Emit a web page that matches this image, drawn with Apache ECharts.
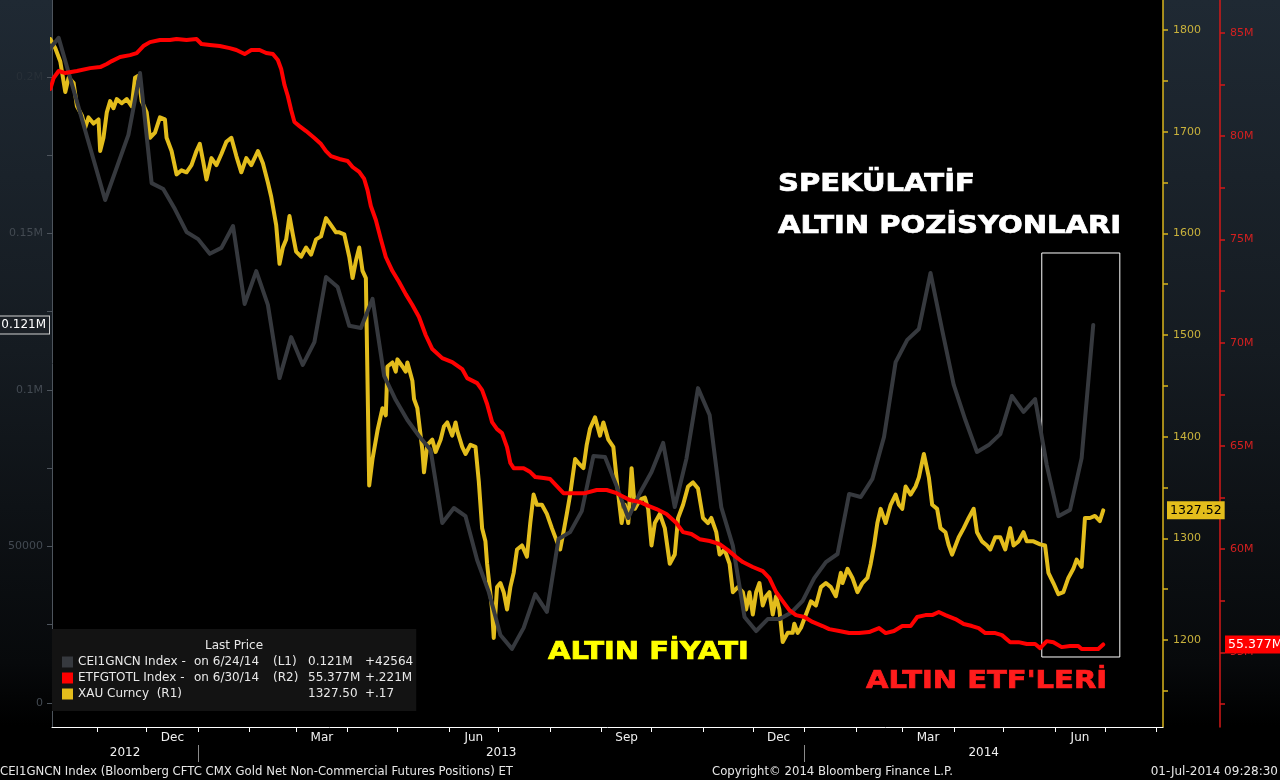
<!DOCTYPE html>
<html><head><meta charset="utf-8">
<script src="https://cdn.jsdelivr.net/npm/echarts@6/dist/echarts.min.js"></script>
<style>html,body{margin:0;padding:0;background:#000}#c{width:1280px;height:780px}</style>
</head><body><div id="c"></div>
<script>
// ---------------- DATA ----------------
const cftcDates = ['2012-10-02','2012-10-09','2012-11-06','2012-11-20','2012-11-27','2012-12-04','2012-12-11','2012-12-18','2012-12-25',
'2013-01-01','2013-01-08','2013-01-15','2013-01-22','2013-01-29','2013-02-05','2013-02-12','2013-02-19','2013-02-26','2013-03-05','2013-03-12','2013-03-19','2013-03-26',
'2013-04-02','2013-04-09','2013-04-16','2013-04-23','2013-04-30','2013-05-07','2013-05-14','2013-05-21','2013-05-28','2013-06-04','2013-06-11','2013-06-18','2013-06-25',
'2013-07-02','2013-07-09','2013-07-16','2013-07-23','2013-07-30','2013-08-06','2013-08-13','2013-08-20','2013-08-27','2013-09-03','2013-09-10','2013-09-17','2013-09-24',
'2013-10-01','2013-10-08','2013-10-15','2013-10-22','2013-10-29','2013-11-05','2013-11-12','2013-11-19','2013-11-26','2013-12-03','2013-12-10','2013-12-17','2013-12-24','2013-12-31',
'2014-01-07','2014-01-14','2014-01-21','2014-01-28','2014-02-04','2014-02-11','2014-02-18','2014-02-25','2014-03-04','2014-03-11','2014-03-18','2014-03-25',
'2014-04-01','2014-04-08','2014-04-15','2014-04-22','2014-04-29','2014-05-06','2014-05-13','2014-05-20','2014-05-27','2014-06-03','2014-06-10','2014-06-17','2014-06-24'];
const cftcPositions = [208000,212500,160700,181500,201300,166100,164200,157800,150500,
148200,143500,145400,152400,127500,138000,127200,103800,116900,108000,115300,136100,132900,
120500,119800,129100,104500,96800,90400,85300,80800,57500,62300,59700,45700,35500,
21700,17300,24000,34800,29100,52400,54600,61300,78900,78600,69300,59100,67100,
73800,83100,62600,78000,100600,92000,62600,50200,27500,23000,26800,26800,28800,32600,
39900,45000,47600,66800,65800,71600,85000,108900,116000,119500,137400,119200,
101600,90400,80200,82400,85900,98100,93000,97100,76000,59700,61700,78236,120800];

const etfDates = ['2012-10-04','2012-10-06','2012-10-09','2012-10-13','2012-10-20','2012-10-28','2012-11-03','2012-11-07','2012-11-10','2012-11-15','2012-11-21','2012-11-25','2012-11-29',
'2012-12-03','2012-12-09','2012-12-15','2012-12-19','2012-12-25','2012-12-31','2013-01-03','2013-01-08','2013-01-14','2013-01-20','2013-01-24','2013-01-29',
'2013-02-02','2013-02-07','2013-02-11','2013-02-15','2013-02-18','2013-02-20','2013-02-22','2013-02-24','2013-02-26','2013-02-28','2013-03-03','2013-03-07','2013-03-12','2013-03-16','2013-03-19','2013-03-22','2013-03-27',
'2013-04-01','2013-04-04','2013-04-08','2013-04-11','2013-04-13','2013-04-15','2013-04-18','2013-04-21','2013-04-24','2013-04-28','2013-05-02','2013-05-06','2013-05-10','2013-05-14','2013-05-18','2013-05-22','2013-05-28',
'2013-06-03','2013-06-09','2013-06-12','2013-06-18','2013-06-21','2013-06-24','2013-06-27','2013-06-30','2013-07-03','2013-07-06','2013-07-08','2013-07-10','2013-07-16','2013-07-20','2013-07-23','2013-07-28',
'2013-08-01','2013-08-05','2013-08-09','2013-08-15','2013-08-22','2013-08-29','2013-09-04','2013-09-10','2013-09-12','2013-09-18','2013-09-24','2013-09-28',
'2013-10-04','2013-10-10','2013-10-16','2013-10-20','2013-10-25','2013-10-30','2013-11-05','2013-11-11','2013-11-16','2013-11-21','2013-11-25',
'2013-12-01','2013-12-07','2013-12-11','2013-12-15','2013-12-19','2013-12-23','2013-12-27','2014-01-01','2014-01-06','2014-01-12','2014-01-16','2014-01-22','2014-01-28',
'2014-02-03','2014-02-09','2014-02-15','2014-02-19','2014-02-24','2014-03-01','2014-03-06','2014-03-10','2014-03-15','2014-03-19','2014-03-23','2014-03-27',
'2014-04-02','2014-04-07','2014-04-12','2014-04-16','2014-04-20','2014-04-26','2014-04-30','2014-05-05','2014-05-10','2014-05-15','2014-05-20','2014-05-23','2014-05-27','2014-05-31',
'2014-06-05','2014-06-10','2014-06-15','2014-06-17','2014-06-23','2014-06-27','2014-06-30'];
const etfHoldings = [82.29,82.82,83.16,83.06,83.16,83.30,83.35,83.50,83.64,83.84,83.93,84.03,84.37,
84.56,84.66,84.66,84.71,84.66,84.71,84.47,84.42,84.37,84.27,84.18,83.98,
84.18,84.18,84.03,83.98,83.69,83.26,82.48,81.95,81.27,80.69,80.49,80.25,79.91,79.62,79.28,79.04,78.90,
78.80,78.51,78.27,77.93,77.39,76.62,75.94,75.02,74.15,73.47,72.94,72.35,71.82,71.24,70.37,69.69,69.25,
69.06,68.72,68.28,68.04,67.70,67.03,66.15,65.81,65.62,64.94,64.17,63.92,63.92,63.73,63.49,63.44,
63.39,63.05,62.71,62.71,62.71,62.86,62.86,62.71,62.62,62.37,62.28,62.13,
61.94,61.70,61.26,60.82,60.73,60.48,60.39,60.24,59.95,59.61,59.37,
59.13,58.93,58.59,57.92,57.48,57.04,56.80,56.71,56.47,56.27,56.12,56.03,55.93,
55.93,55.98,56.17,55.93,56.03,56.27,56.27,56.71,56.80,56.80,56.95,56.80,
56.61,56.37,56.27,56.17,55.93,55.93,55.83,55.49,55.49,55.40,55.40,55.20,55.54,55.49,
55.25,55.30,55.30,55.16,55.16,55.156,55.377];

const goldDates = ['2012-10-04','2012-10-07','2012-10-10','2012-10-13','2012-10-15','2012-10-18','2012-10-20','2012-10-23','2012-10-25','2012-10-27','2012-10-30',
'2012-11-02','2012-11-03','2012-11-05','2012-11-07','2012-11-09','2012-11-11','2012-11-13','2012-11-16','2012-11-19','2012-11-22','2012-11-24','2012-11-26','2012-11-28',
'2012-12-01','2012-12-03','2012-12-06','2012-12-09','2012-12-12','2012-12-13','2012-12-16','2012-12-19','2012-12-22','2012-12-25','2012-12-28','2012-12-31',
'2013-01-02','2013-01-04','2013-01-06','2013-01-09','2013-01-12','2013-01-15','2013-01-18','2013-01-21','2013-01-24','2013-01-27','2013-01-30',
'2013-02-02','2013-02-06','2013-02-09','2013-02-12','2013-02-14','2013-02-17','2013-02-19','2013-02-21','2013-02-23','2013-02-25','2013-02-27',
'2013-03-01','2013-03-04','2013-03-07','2013-03-10','2013-03-13','2013-03-16','2013-03-19','2013-03-22','2013-03-25','2013-03-27','2013-03-30',
'2013-04-02','2013-04-04','2013-04-06','2013-04-08','2013-04-10','2013-04-12','2013-04-14','2013-04-16','2013-04-19','2013-04-22','2013-04-24','2013-04-25','2013-04-28','2013-04-30',
'2013-05-01','2013-05-04','2013-05-06','2013-05-07','2013-05-10','2013-05-11','2013-05-13','2013-05-16','2013-05-17','2013-05-19','2013-05-22','2013-05-24','2013-05-27','2013-05-29','2013-05-31',
'2013-06-03','2013-06-05','2013-06-06','2013-06-09','2013-06-11','2013-06-14','2013-06-17','2013-06-19','2013-06-21','2013-06-23','2013-06-24','2013-06-27','2013-06-28','2013-06-30',
'2013-07-02','2013-07-04','2013-07-06','2013-07-08','2013-07-10','2013-07-12','2013-07-15','2013-07-18','2013-07-20','2013-07-22','2013-07-24','2013-07-27','2013-07-30',
'2013-08-02','2013-08-05','2013-08-07','2013-08-09','2013-08-11','2013-08-13','2013-08-16','2013-08-18','2013-08-21','2013-08-23','2013-08-25','2013-08-28','2013-08-31',
'2013-09-02','2013-09-05','2013-09-08','2013-09-11','2013-09-13','2013-09-15','2013-09-17','2013-09-19','2013-09-21','2013-09-24','2013-09-27','2013-09-29',
'2013-10-01','2013-10-03','2013-10-06','2013-10-09','2013-10-12','2013-10-15','2013-10-17','2013-10-20','2013-10-23','2013-10-26','2013-10-29',
'2013-11-01','2013-11-04','2013-11-06','2013-11-09','2013-11-11','2013-11-14','2013-11-17','2013-11-19','2013-11-22','2013-11-25','2013-11-27','2013-11-29',
'2013-12-01','2013-12-03','2013-12-05','2013-12-07','2013-12-09','2013-12-11','2013-12-13','2013-12-15','2013-12-17','2013-12-19','2013-12-22','2013-12-25','2013-12-26','2013-12-28','2013-12-30',
'2014-01-02','2014-01-05','2014-01-08','2014-01-11','2014-01-14','2014-01-17','2014-01-20','2014-01-23','2014-01-24','2014-01-27','2014-01-30',
'2014-02-02','2014-02-05','2014-02-08','2014-02-10','2014-02-12','2014-02-14','2014-02-16','2014-02-19','2014-02-22','2014-02-25','2014-02-27',
'2014-03-01','2014-03-03','2014-03-06','2014-03-09','2014-03-11','2014-03-14','2014-03-17','2014-03-19','2014-03-22','2014-03-24','2014-03-27','2014-03-29','2014-03-31',
'2014-04-04','2014-04-07','2014-04-10','2014-04-13','2014-04-15','2014-04-18','2014-04-21','2014-04-23','2014-04-26','2014-04-29',
'2014-05-02','2014-05-05','2014-05-07','2014-05-10','2014-05-13','2014-05-15','2014-05-19','2014-05-23','2014-05-26','2014-05-28','2014-05-31',
'2014-06-03','2014-06-06','2014-06-09','2014-06-12','2014-06-14','2014-06-17','2014-06-19','2014-06-22','2014-06-25','2014-06-28','2014-06-30'];
const goldPrices = [1791,1782,1769,1739,1753,1748,1725,1716,1704,1714,1708,
1712,1681,1694,1719,1730,1723,1732,1728,1732,1725,1753,1755,1730,
1719,1694,1699,1714,1712,1694,1681,1658,1662,1660,1667,1681,
1688,1671,1653,1674,1667,1678,1690,1694,1676,1660,1674,
1667,1681,1669,1650,1636,1608,1570,1586,1594,1617,1599,
1582,1577,1586,1579,1594,1597,1615,1608,1601,1601,1599,
1577,1556,1573,1586,1563,1556,1352,1378,1406,1428,1421,1469,1473,1464,
1476,1469,1464,1473,1455,1437,1428,1387,1365,1392,1397,1385,1397,1410,1414,
1401,1414,1406,1390,1383,1392,1390,1356,1310,1297,1275,1230,1202,1252,
1256,1247,1230,1252,1266,1289,1293,1282,1315,1343,1333,1333,1324,
1310,1297,1289,1306,1324,1343,1378,1374,1369,1392,1408,1419,1401,
1414,1397,1390,1343,1315,1333,1315,1369,1329,1338,1340,1329,
1293,1315,1324,1310,1275,1284,1320,1333,1351,1355,1349,
1320,1315,1320,1306,1284,1289,1275,1247,1252,1247,1230,1247,
1225,1247,1256,1234,1243,1247,1225,1243,1230,1198,1207,1207,1216,1207,1212,
1225,1238,1234,1252,1256,1252,1243,1266,1256,1270,1261,
1247,1256,1261,1275,1293,1315,1329,1315,1333,1343,1333,
1329,1351,1343,1351,1360,1383,1360,1333,1329,1310,1306,1293,1284,
1301,1310,1320,1329,1306,1297,1293,1289,1301,1301,
1289,1310,1293,1297,1306,1297,1297,1294,1293,1266,1256,
1245,1247,1261,1270,1279,1272,1320,1320,1322,1317,1327.5];

// axis tick / label values
const xRange = ['2012-10-05','2014-08-05'];
const monthStarts = ['2012-10-01','2012-11-01','2012-12-01','2013-01-01','2013-02-01','2013-03-01','2013-04-01','2013-05-01','2013-06-01','2013-07-01','2013-08-01','2013-09-01','2013-10-01','2013-11-01','2013-12-01','2014-01-01','2014-02-01','2014-03-01','2014-04-01','2014-05-01','2014-06-01','2014-07-01','2014-08-01','2014-09-01'];
const labelMonths = ['2012-12-01','2013-03-01','2013-06-01','2013-09-01','2013-12-01','2014-03-01','2014-06-01'];
const yearStarts = ['2013-01-01','2014-01-01'];
const monthNames = ['Jan','Feb','Mar','Apr','May','Jun','Jul','Aug','Sep','Oct','Nov','Dec'];
const leftRange = [-7668, 224600];
const leftTicks = [0,25000,50000,75000,100000,125000,150000,175000,200000];
const leftLabels = [0,50000,100000,150000,200000];
const goldRange = [1114.4, 1829.5];
const goldTicks = [1150,1200,1250,1300,1350,1400,1450,1500,1550,1600,1650,1700,1750,1800];
const goldLabels = [1200,1300,1400,1500,1600,1700,1800];
const etfRange = [51.38, 86.6];
const etfTicks = [52.5,55,57.5,60,62.5,65,67.5,70,72.5,75,77.5,80,82.5,85];
const etfLabels = [55,60,65,70,75,80,85];
const lastTags = {cftc:[120800,'0.121M'], gold:[1327.52,'1327.52'], etf:[55.377,'55.377M']};
const boxDates = ['2014-05-24','2014-07-10'];
const boxValues = [143770, 14700];
const legendRows = {
  'CEI1GNCN Index': ['CEI1GNCN Index -','on 6/24/14','(L1)','0.121M','+42564'],
  'ETFGTOTL Index': ['ETFGTOTL Index -','on 6/30/14','(R2)','55.377M','+.221M'],
  'XAU Curncy': ['XAU Curncy  (R1)',' ',' ','1327.50','+.17']
};

// ---------------- CHART ----------------
const F = 'DejaVu Sans';
const GOLD = '#e3bd1c', RED = '#ff0000', GRAY = '#36393e';
const ts = s => { const [y,m,d] = s.split('-').map(Number); return new Date(y, m-1, d).getTime(); };
const zip = (a,b) => a.map((d,i) => [ts(d), b[i]]);
const xMin = ts(xRange[0]), xMax = ts(xRange[1]);
const monthTickTs = monthStarts.map(ts).filter(v => v >= xMin && v <= xMax);
const monthLabelTs = labelMonths.map(s => { const i = monthStarts.indexOf(s); return (ts(s) + ts(monthStarts[i+1])) / 2; });
const yb = yearStarts.map(ts);
const yearLabelTs = [(xMin + yb[0]) / 2, (yb[0] + yb[1]) / 2, (yb[1] + xMax) / 2];

const chart = echarts.init(document.getElementById('c'), null, {renderer: 'canvas'});
const tagLabel = (pos, dist, bg, fg, border, size) => ({
  show: true, position: pos, distance: dist, backgroundColor: bg, color: fg,
  borderColor: border || bg, borderWidth: border ? 1 : 0,
  padding: [3, 3, 2, 3], fontSize: size || 12.5, fontFamily: F
});
const hiddenLine = {color: 'rgba(0,0,0,0)', width: 1, type: 'solid'};
const bigText = (txt, x, y, fill, extra) => ({type: 'text', z: 100, x: x, y: y, scaleX: 1.21,
  style: Object.assign({text: txt, fill: fill, stroke: fill, lineWidth: 0.7, font: 'bold 24px "DejaVu Sans"', verticalAlign: 'middle'}, extra || {})});

chart.setOption({
  animation: false,
  backgroundColor: new echarts.graphic.LinearGradient(0, 0, 0, 1, [
    {offset: 0, color: '#1f2933'}, {offset: 0.45, color: '#151b21'},
    {offset: 0.85, color: '#07090b'}, {offset: 0.93, color: '#000'}, {offset: 1, color: '#000'}]),
  grid: {left: 52, right: 117, top: 0, bottom: 53, show: true, backgroundColor: '#000', borderWidth: 0},
  xAxis: [{
    type: 'value', min: xMin, max: xMax, position: 'bottom',
    axisLine: {show: true, onZero: false, lineStyle: {color: '#ffffff', width: 1}},
    axisTick: {show: true, customValues: monthTickTs, length: 5, lineStyle: {color: '#ffffff'}},
    axisLabel: {customValues: monthLabelTs, formatter: v => monthNames[new Date(v).getMonth()], color: '#f0f0f0', fontSize: 12, fontFamily: F, margin: 5},
    splitLine: {show: false}
  }, {
    type: 'value', min: xMin, max: xMax, position: 'bottom', offset: 18,
    axisLine: {show: false, onZero: false},
    axisTick: {show: true, customValues: yb, length: 17, lineStyle: {color: '#8a8a8a'}},
    axisLabel: {customValues: yearLabelTs, formatter: v => String(new Date(v).getFullYear()), color: '#f0f0f0', fontSize: 12, fontFamily: F, margin: 2},
    splitLine: {show: false}
  }],
  yAxis: [{
    type: 'value', position: 'left', min: leftRange[0], max: leftRange[1],
    axisLine: {show: true, onZero: false, lineStyle: {color: '#4d545c'}},
    axisTick: {show: true, customValues: leftTicks, length: 5, lineStyle: {color: '#4d545c'}},
    axisLabel: {customValues: leftLabels, fontSize: 11, fontFamily: F, margin: 9,
      color: v => (v >= 200000 ? '#283038' : '#434a52'),
      formatter: v => v === 0 ? '0' : (v < 100000 ? String(v) : (v / 1e6) + 'M')},
    splitLine: {show: false}
  }, {
    type: 'value', position: 'right', min: goldRange[0], max: goldRange[1],
    axisLine: {show: true, onZero: false, lineStyle: {color: '#d8b41c', width: 1.5}},
    axisTick: {show: true, customValues: goldTicks, length: 5, lineStyle: {color: '#d8b41c', width: 1.5}},
    axisLabel: {customValues: goldLabels, color: '#c9b23c', fontSize: 11, fontFamily: F, margin: 10, formatter: v => String(v)},
    splitLine: {show: false}
  }, {
    type: 'value', position: 'right', offset: 57, min: etfRange[0], max: etfRange[1],
    axisLine: {show: true, onZero: false, lineStyle: {color: '#d41818', width: 1.5}},
    axisTick: {show: true, customValues: etfTicks, length: 5, lineStyle: {color: '#d41818', width: 1.5}},
    axisLabel: {customValues: etfLabels, color: '#d42020', fontSize: 11, fontFamily: F, margin: 10, formatter: v => v + 'M'},
    splitLine: {show: false}
  }],
  legend: {
    data: ['CEI1GNCN Index', 'ETFGTOTL Index', 'XAU Curncy'],
    orient: 'vertical', left: 52, top: 629, padding: [27, 3, 11, 10], itemGap: 4,
    itemWidth: 11, itemHeight: 11, icon: 'rect', selectedMode: false,
    backgroundColor: '#131313',
    textStyle: {color: '#e8e8e8', fontFamily: F, fontSize: 12,
      rich: {
        a: {width: 116, color: '#e8e8e8', fontFamily: F, fontSize: 12},
        b: {width: 79, color: '#e8e8e8', fontFamily: F, fontSize: 12},
        c: {width: 35, color: '#e8e8e8', fontFamily: F, fontSize: 12},
        d: {width: 57, color: '#e8e8e8', fontFamily: F, fontSize: 12},
        e: {width: 45, color: '#e8e8e8', fontFamily: F, fontSize: 12}
      }},
    formatter: n => { const r = legendRows[n]; return '{a|' + r[0] + '}{b|' + r[1] + '}{c|' + r[2] + '}{d|' + r[3] + '}{e|' + r[4] + '}'; }
  },
  graphic: [
    {type: 'text', z: 100, x: 234, y: 646, style: {text: 'Last Price', fill: '#e8e8e8', font: '12px "DejaVu Sans"', align: 'center', verticalAlign: 'middle'}},
    {type: 'text', z: 100, x: 0, y: 772, style: {text: 'CEI1GNCN Index (Bloomberg CFTC CMX Gold Net Non-Commercial Futures Positions) ET', fill: '#e6e6e6', font: '11.7px "DejaVu Sans"', verticalAlign: 'middle'}},
    {type: 'text', z: 100, x: 712, y: 772, style: {text: 'Copyright© 2014 Bloomberg Finance L.P.', fill: '#e6e6e6', font: '11.7px "DejaVu Sans"', verticalAlign: 'middle'}},
    {type: 'text', z: 100, x: 1278, y: 772, style: {text: '01-Jul-2014 09:28:30', fill: '#e6e6e6', font: '12px "DejaVu Sans"', align: 'right', verticalAlign: 'middle'}},
    bigText('SPEKÜLATİF\nALTIN POZİSYONLARI', 778, 206, '#ffffff', {lineHeight: 42}),
    bigText('ALTIN FİYATI', 548, 653, '#ffff00'),
    bigText("ALTIN ETF'LERİ", 866, 682, '#ff1c1c')
  ],
  series: [{
    name: 'XAU Curncy', type: 'line', xAxisIndex: 0, yAxisIndex: 1, data: zip(goldDates, goldPrices),
    showSymbol: false, clip: true, lineStyle: {color: GOLD, width: 4, join: 'round', cap: 'round'}, itemStyle: {color: GOLD},
    markLine: {silent: true, symbol: 'none', lineStyle: hiddenLine, animation: false,
      label: Object.assign(tagLabel('end', 4, GOLD, '#000'), {formatter: lastTags.gold[1]}),
      data: [{yAxis: lastTags.gold[0]}]}
  }, {
    name: 'CEI1GNCN Index', type: 'line', xAxisIndex: 0, yAxisIndex: 0, data: zip(cftcDates, cftcPositions),
    showSymbol: false, clip: true, lineStyle: {color: GRAY, width: 4, join: 'round', cap: 'round'}, itemStyle: {color: GRAY},
    markLine: {silent: true, symbol: 'none', lineStyle: hiddenLine, animation: false,
      label: Object.assign(tagLabel('start', 3, '#1b2026', '#ffffff', '#d0d0d0', 12), {formatter: lastTags.cftc[1], padding: [3, 3, 2, 3]}),
      data: [{yAxis: lastTags.cftc[0]}]},
    markArea: {silent: true, itemStyle: {color: 'rgba(0,0,0,0)', borderColor: '#ffffff', borderWidth: 1},
      data: [[{xAxis: ts(boxDates[0]), yAxis: boxValues[0]}, {xAxis: ts(boxDates[1]), yAxis: boxValues[1]}]]}
  }, {
    name: 'ETFGTOTL Index', type: 'line', xAxisIndex: 0, yAxisIndex: 2, data: zip(etfDates, etfHoldings),
    showSymbol: false, clip: true, lineStyle: {color: RED, width: 4, join: 'round', cap: 'round'}, itemStyle: {color: RED},
    markLine: {silent: true, symbol: 'none', lineStyle: hiddenLine, animation: false,
      label: Object.assign(tagLabel('end', 62, '#ff0000', '#ffffff'), {formatter: lastTags.etf[1]}),
      data: [{yAxis: lastTags.etf[0]}]}
  }]
});
</script></body></html>
